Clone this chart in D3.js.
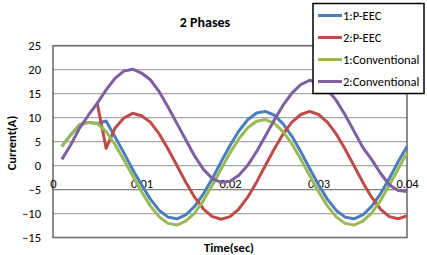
<!DOCTYPE html>
<html>
<head>
<meta charset="utf-8">
<script src="https://cdn.jsdelivr.net/npm/d3@7"></script>
<style>
  body { margin: 0; background: #fff; }
  svg { display: block; font-family: Calibri, Carlito, Lato, sans-serif; }
</style>
</head>
<body>
<div id="chart"></div>
<script>
// time in seconds, one sample per ms
const times = d3.range(1, 41).map(i => i / 1000);

const seriesNames = ["1:P-EEC", "2:P-EEC", "1:Conventional", "2:Conventional"];
const seriesColors = ["#4A7EBB", "#BE4B48", "#98B954", "#7D60A0"];

const pEec1 = [4.0, 6.4, 8.5, 9.0, 8.8, 9.3, 6.0, 2.7, -0.8, -4.0,
  -7.0, -9.35, -10.75, -11.1, -10.3, -8.5, -5.9, -2.7, 0.8, 4.2,
  7.2, 9.55, 10.95, 11.3, 10.5, 8.7, 6.1, 2.9, -0.6, -4.0,
  -7.0, -9.35, -10.75, -11.1, -10.3, -8.5, -5.9, -2.7, 0.8, 4.0];

const pEec2 = [null, null, null, null, 13.0, 3.6, 7.8, 9.9, 10.9, 10.4,
  9.06, 6.6, 3.46, 0, -3.46, -6.6, -9.06, -10.65, -11.2, -10.65,
  -9.06, -6.6, -3.46, 0, 3.46, 6.6, 9.06, 10.65, 11.3, 10.65,
  9.06, 6.6, 3.46, 0, -3.46, -6.6, -9.06, -10.65, -11.1, -10.5];

const conv1 = [4.0, 6.4, 8.5, 9.0, 8.8, 7.1, 4.4, 1.2, -2.1, -5.45,
  -8.4, -10.7, -12.05, -12.4, -11.6, -9.9, -7.3, -4.1, -0.7, 2.65,
  5.6, 7.9, 9.25, 9.6, 8.8, 7.1, 4.5, 1.3, -2.1, -5.45,
  -8.4, -10.7, -12.05, -12.4, -11.6, -9.9, -7.3, -4.1, -0.7, 2.65];

const conv2 = [1.3, 4.3, 7.8, 10.5, 13.0, 15.8, 18.2, 19.7, 20.1, 19.3,
  17.9, 15.4, 12.2, 8.8, 5.4, 2.0, -0.8, -2.7, -3.5, -3.25,
  -2.0, 0.05, 2.9, 6.15, 9.5, 12.6, 15.1, 16.9, 17.8, 17.3,
  15.9, 13.6, 10.6, 7.2, 3.8, 1.3, -1.6, -4.0, -5.2, -5.4];

const seriesValues = [pEec1, pEec2, conv1, conv2];

const xTicks = [0, 0.01, 0.02, 0.03, 0.04];
const yTicks = [-15, -10, -5, 0, 5, 10, 15, 20, 25];

const width = 427, height = 255;
const plot = { left: 53, right: 407, top: 45.7, bottom: 237.5 };

const svg = d3.select("#chart").append("svg")
  .attr("width", width)
  .attr("height", height);

const x = d3.scaleLinear().domain([0, 0.04]).range([plot.left, plot.right]);
const y = d3.scaleLinear().domain([-15, 25]).range([plot.bottom, plot.top]);

// gridlines
svg.append("g")
  .selectAll("line")
  .data(yTicks)
  .enter()
  .append("line")
  .attr("x1", plot.left).attr("x2", plot.right)
  .attr("y1", d => y(d)).attr("y2", d => y(d))
  .attr("stroke", d => d === -5 ? "#808080" : "#a6a6a6")
  .attr("stroke-width", 1.2);

// plot area border
svg.append("rect")
  .attr("x", plot.left).attr("y", plot.top)
  .attr("width", plot.right - plot.left)
  .attr("height", plot.bottom - plot.top)
  .attr("fill", "none")
  .attr("stroke", "#6e6e6e")
  .attr("stroke-width", 1.6);

// y tick labels
const yAxis = svg.append("g")
  .attr("transform", `translate(${plot.left - 12},0)`)
  .call(d3.axisLeft(y).tickValues(yTicks).tickSize(0).tickPadding(0));
yAxis.select(".domain").remove();
yAxis.selectAll("text")
  .attr("font-size", 12.5)
  .attr("font-family", "Calibri, Carlito, Lato, sans-serif")
  .attr("fill", "#000");

// x tick labels (sit just above the -5 gridline)
const xAxis = svg.append("g")
  .attr("transform", `translate(0,${y(-5) - 10.5})`)
  .call(d3.axisBottom(x).tickValues(xTicks).tickSize(0).tickPadding(0)
    .tickFormat(d => d === 0 ? "0" : d3.format(".2f")(d).replace(/0$/, "")));
xAxis.select(".domain").remove();
xAxis.selectAll("text")
  .attr("font-size", 12.5)
  .attr("font-family", "Calibri, Carlito, Lato, sans-serif")
  .attr("fill", "#000");

// lines
const line = d3.line()
  .defined(d => d[1] !== null)
  .x(d => x(d[0]))
  .y(d => y(d[1]));

seriesValues.forEach((vals, k) => {
  svg.append("path")
    .datum(times.map((t, i) => [t, vals[i]]))
    .attr("fill", "none")
    .attr("stroke", seriesColors[k])
    .attr("stroke-width", 3)
    .attr("stroke-linejoin", "round")
    .attr("d", line);
});

// title and axis titles
svg.append("text")
  .attr("x", 205).attr("y", 27)
  .attr("text-anchor", "middle")
  .attr("font-size", 14)
  .attr("font-weight", "bold")
  .text("2 Phases");

svg.append("text")
  .attr("x", 229).attr("y", 252)
  .attr("text-anchor", "middle")
  .attr("font-size", 12.5)
  .attr("font-weight", "bold")
  .text("Time(sec)");

svg.append("text")
  .attr("transform", "translate(16,143) rotate(-90)")
  .attr("text-anchor", "middle")
  .attr("font-size", 12.5)
  .attr("font-weight", "bold")
  .text("Current(A)");

// legend
const legend = svg.append("g");
legend.append("rect")
  .attr("x", 313).attr("y", 3.5)
  .attr("width", 111).attr("height", 90)
  .attr("fill", "#fff")
  .attr("stroke", "#000")
  .attr("stroke-width", 1.5);

seriesNames.forEach((name, k) => {
  const ly = 15.5 + k * 22;
  legend.append("line")
    .attr("x1", 318).attr("x2", 342)
    .attr("y1", ly).attr("y2", ly)
    .attr("stroke", seriesColors[k])
    .attr("stroke-width", 3);
  legend.append("text")
    .attr("x", 343).attr("y", ly + 4.5)
    .attr("font-size", 12.5)
    .text(name);
});
</script>
</body>
</html>
